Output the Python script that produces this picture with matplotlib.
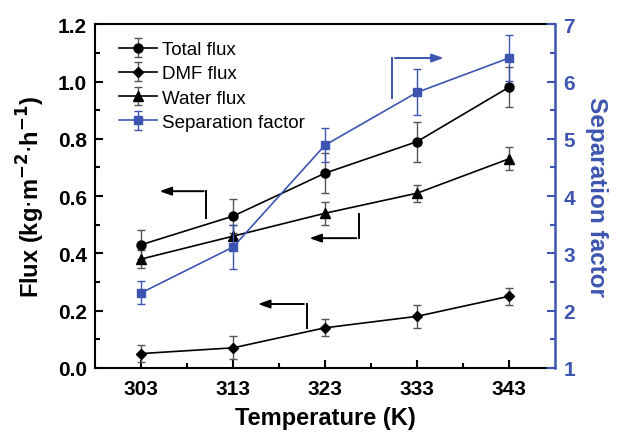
import matplotlib
matplotlib.use("Agg")
import matplotlib.pyplot as plt

plt.rcParams['font.family'] = ['Liberation Sans', 'DejaVu Sans']

# data
temps = [303, 313, 323, 333, 343]
total_flux = [0.43, 0.53, 0.68, 0.79, 0.98]
total_err = [0.05, 0.06, 0.07, 0.07, 0.07]
dmf_flux = [0.05, 0.07, 0.14, 0.18, 0.25]
dmf_err = [0.03, 0.04, 0.03, 0.04, 0.03]
water_flux = [0.38, 0.46, 0.54, 0.61, 0.73]
water_err = [0.03, 0.04, 0.04, 0.03, 0.04]
sep_factor = [2.31, 3.11, 4.89, 5.81, 6.41]
sep_err = [0.2, 0.38, 0.3, 0.4, 0.4]

blue = '#3d55b0'
errgray = '#555555'

fig = plt.figure(figsize=(6.18, 4.35), dpi=100)
ax = fig.add_axes([0.154, 0.152, 0.744, 0.79])
ax2 = ax.twinx()

ekw = dict(ecolor=errgray, elinewidth=1.0, capsize=3, capthick=1.0)
ax.errorbar(temps, total_flux, yerr=total_err, color='black', marker='o',
            ms=6.5, lw=1.2, label='Total flux', **ekw)
ax.errorbar(temps, dmf_flux, yerr=dmf_err, color='black', marker='D',
            ms=5.5, lw=1.2, label='DMF flux', **ekw)
ax.errorbar(temps, water_flux, yerr=water_err, color='black', marker='^',
            ms=6.5, lw=1.2, label='Water flux', **ekw)
ax2.errorbar(temps, sep_factor, yerr=sep_err, color=blue, marker='s',
             ms=6, lw=1.2, ecolor=blue, elinewidth=1.0, capsize=3,
             capthick=1.0, label='Separation factor')

ax.set_xlim(298, 348)
ax.set_ylim(0, 1.2)
ax2.set_ylim(1, 7)
ax.set_xticks(temps)
ax.set_xticks([308, 318, 328, 338], minor=True)
ax.set_yticks([0, 0.2, 0.4, 0.6, 0.8, 1.0, 1.2])
ax.set_yticks([0.1, 0.3, 0.5, 0.7, 0.9, 1.1], minor=True)
ax2.set_yticks([1, 2, 3, 4, 5, 6, 7])
ax2.set_yticks([1.5, 2.5, 3.5, 4.5, 5.5, 6.5], minor=True)
ax.yaxis.set_major_formatter(matplotlib.ticker.FormatStrFormatter('%.1f'))

ax.tick_params(axis='both', which='both', direction='in', labelsize=15,
               width=1.5, top=False, right=False)
ax.tick_params(which='major', length=6)
ax.tick_params(which='minor', length=3.5)
ax.tick_params(axis='x', pad=8)
ax.tick_params(axis='y', pad=6)
ax2.tick_params(axis='y', which='both', direction='in', colors=blue,
                labelsize=15, width=1.5, pad=6)
ax2.tick_params(which='major', length=6)
ax2.tick_params(which='minor', length=3.5)
for lab in ax.get_xticklabels() + ax.get_yticklabels() + ax2.get_yticklabels():
    lab.set_fontweight('bold')

for side in ['left', 'bottom', 'top']:
    ax.spines[side].set_linewidth(1.5)
ax2.spines['right'].set_color(blue)
ax2.spines['right'].set_linewidth(1.8)
for side in ['left', 'bottom', 'top']:
    ax2.spines[side].set_visible(False)
ax.spines['right'].set_visible(False)

ax.set_xlabel('Temperature (K)', fontsize=17, fontweight='bold', labelpad=6)
ax.set_ylabel('Flux (kg$\\cdot$m$^{\\mathbf{-2}}$$\\cdot$h$^{\\mathbf{-1}}$)',
              fontsize=17, fontweight='bold', labelpad=8)
ax2.set_ylabel('Separation factor', fontsize=17.5, fontweight='bold',
               color=blue, rotation=270, labelpad=24)

# legend
h1, l1 = ax.get_legend_handles_labels()
h2, l2 = ax2.get_legend_handles_labels()
leg = ax.legend(h1 + h2, l1 + l2, loc='upper left', frameon=False,
                fontsize=13.5, handlelength=2.0, handletextpad=0.3,
                labelspacing=0.38, borderaxespad=0.4,
                bbox_to_anchor=(0.02, 0.995))

# pointer arrows
akw = dict(arrowstyle='-|>,head_length=0.7,head_width=0.25', lw=1.4)
ax.plot([310.1, 310.1], [0.523, 0.617], color='black', lw=1.4)
ax.annotate('', xy=(304.7, 0.617), xytext=(310.1, 0.617),
            arrowprops=dict(color='black', **akw))
ax.plot([326.7, 326.7], [0.537, 0.453], color='black', lw=1.4)
ax.annotate('', xy=(321.0, 0.453), xytext=(326.7, 0.453),
            arrowprops=dict(color='black', **akw))
ax.plot([321.0, 321.0], [0.14, 0.223], color='black', lw=1.4)
ax.annotate('', xy=(315.4, 0.223), xytext=(321.0, 0.223),
            arrowprops=dict(color='black', **akw))
ax.plot([330.3, 330.3], [0.942, 1.082], color=blue, lw=1.4)
ax.annotate('', xy=(336.2, 1.082), xytext=(330.3, 1.082),
            arrowprops=dict(color=blue, **akw))

fig.savefig('out.png', dpi=100)
